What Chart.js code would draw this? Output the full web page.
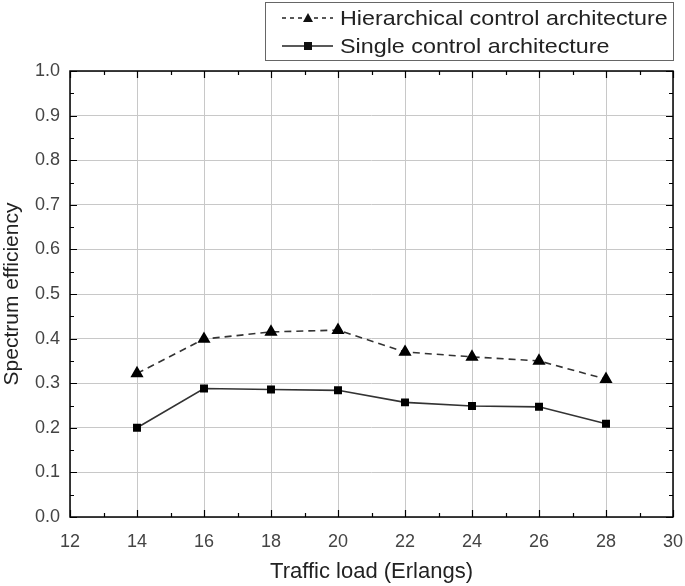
<!DOCTYPE html>
<html><head><meta charset="utf-8">
<script src="https://cdn.jsdelivr.net/npm/chart.js@4/dist/chart.umd.min.js"></script>
<style>html,body{margin:0;padding:0;background:#fff}#wrap{width:685px;height:586px;position:relative}</style>
</head><body><div id="wrap"><canvas id="c" width="685" height="586"></canvas></div>
<script>
const trafficLoad = [14, 16, 18, 20, 22, 24, 26, 28];
const hierarchical = [0.322, 0.399, 0.415, 0.419, 0.37, 0.359, 0.35, 0.309];
const single = [0.20, 0.288, 0.286, 0.284, 0.257, 0.249, 0.247, 0.209];
const seriesNames = ['Hierarchical control architecture', 'Single control architecture'];
const xTitle = 'Traffic load (Erlangs)';
const yTitle = 'Spectrum efficiency';

const FONT = '"Liberation Sans", Arial, sans-serif';

const frame = {
  id: 'frame',
  afterDraw(chart) {
    const {ctx, chartArea: a, scales: {x, y}} = chart;
    ctx.save();
    ctx.strokeStyle = '#000';
    ctx.lineWidth = 1.5;
    ctx.strokeRect(a.left, a.top, a.right - a.left, a.bottom - a.top);
    ctx.lineWidth = 1.2;
    ctx.beginPath();
    for (let v = 12; v <= 30; v += 1) {
      const px = Math.round(x.getPixelForValue(v)) + 0.5;
      const L = v % 2 === 0 ? 7 : 4;
      ctx.moveTo(px, a.bottom); ctx.lineTo(px, a.bottom - L);
      ctx.moveTo(px, a.top); ctx.lineTo(px, a.top + L);
    }
    for (let i = 0; i <= 20; i++) {
      const v = i * 0.05;
      const py = Math.round(y.getPixelForValue(v)) + 0.5;
      const L = i % 2 === 0 ? 7 : 4;
      ctx.moveTo(a.left, py); ctx.lineTo(a.left + L, py);
      ctx.moveTo(a.right, py); ctx.lineTo(a.right - L, py);
    }
    ctx.stroke();
    // legend
    const lx = 265, ly = 2, lw = a.right - 265, lh = 58;
    ctx.lineWidth = 1;
    ctx.strokeStyle = '#666';
    ctx.strokeRect(lx + 0.5, ly + 0.5, lw, lh);
    ctx.font = '21px ' + FONT;
    ctx.textBaseline = 'middle';
    const rows = [{y: 18, dash: [4, 4], shape: 'tri'}, {y: 46, dash: [], shape: 'sq'}];
    rows.forEach((r, i) => {
      ctx.strokeStyle = '#222';
      ctx.lineWidth = 1.3;
      ctx.setLineDash(r.dash);
      ctx.beginPath(); ctx.moveTo(282, r.y); ctx.lineTo(333, r.y); ctx.stroke();
      ctx.setLineDash([]);
      ctx.fillStyle = '#111';
      if (r.shape === 'tri') {
        ctx.beginPath(); ctx.moveTo(308, r.y - 5); ctx.lineTo(313, r.y + 4); ctx.lineTo(303, r.y + 4); ctx.closePath(); ctx.fill();
      } else {
        ctx.fillRect(304, r.y - 4, 8, 8);
      }
      ctx.fillStyle = '#222';
      ctx.save();
      ctx.translate(340, r.y + 1);
      ctx.scale(1.11, 1);
      ctx.fillText(seriesNames[i], 0, 0);
      ctx.restore();
    });
    ctx.restore();
  }
};

new Chart(document.getElementById('c'), {
  type: 'line',
  data: {
    datasets: [
      {label: seriesNames[0], data: trafficLoad.map((t, i) => ({x: t, y: hierarchical[i]})),
       borderColor: '#333', borderWidth: 1.6, borderDash: [7, 5], pointStyle: 'triangle',
       pointRadius: 6, pointBackgroundColor: '#000', pointBorderColor: '#000', tension: 0},
      {label: seriesNames[1], data: trafficLoad.map((t, i) => ({x: t, y: single[i]})),
       borderColor: '#333', borderWidth: 1.6, pointStyle: 'rect',
       pointRadius: 4.5, pointBackgroundColor: '#000', pointBorderColor: '#000', tension: 0}
    ]
  },
  options: {
    responsive: false, animation: false,
    layout: {padding: {top: 71, right: 12, left: 0, bottom: 0}},
    plugins: {legend: {display: false}, tooltip: {enabled: false}},
    scales: {
      x: {type: 'linear', min: 12, max: 30,
          ticks: {stepSize: 2, color: '#444', font: {family: FONT, size: 18}, padding: 14},
          grid: {color: '#c8c8c8', drawTicks: false}, border: {display: false},
          title: {display: true, text: xTitle, color: '#222', font: {family: FONT, size: 22}, padding: {top: 0, bottom: 1}},
          afterFit(s) { s.height = 69; s.paddingRight = 0; s.paddingLeft = 0; }},
      y: {min: 0, max: 1,
          ticks: {stepSize: 0.1, color: '#444', font: {family: FONT, size: 18}, padding: 10,
                  callback: v => v.toFixed(1)},
          grid: {color: '#c8c8c8', drawTicks: false}, border: {display: false},
          title: {display: true, text: yTitle, color: '#222', font: {family: FONT, size: 21}, padding: {top: 0, bottom: 0}},
          afterFit(s) { s.width = 70; s.paddingTop = 0; s.paddingBottom = 0; }}
    }
  },
  plugins: [frame]
});
</script></body></html>
